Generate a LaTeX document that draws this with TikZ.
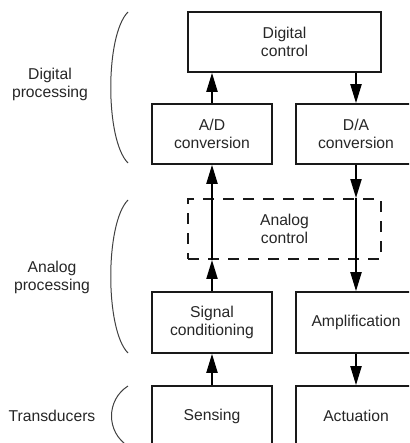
\documentclass[tikz,border=0pt]{standalone}
\usepackage{fontspec}
\setmainfont{Liberation Sans}
\usetikzlibrary{arrows.meta}
\begin{document}
\begin{tikzpicture}[x=1pt,y=-1pt,
  txt/.style={font=\fontsize{15.7}{18}\selectfont, text=black!85},
  blk/.style={txt, draw=black!90, line width=1.6pt, minimum width=120pt,
    minimum height=60pt, inner sep=0pt, align=center},
  wide/.style={blk, minimum width=193pt},
  dashbox/.style={wide, line width=1.9pt, dash pattern=on 11pt off 9pt},
  flow/.style={draw=black, line width=2pt, -{Triangle[length=19pt,width=11pt]}},
  shaft/.style={draw=black, line width=2pt},
  brk/.style={draw=black!75, line width=1pt},
  lbl/.style={txt, align=center}]
\useasboundingbox (0,0) rectangle (409,443);
\clip (0,0) rectangle (409,443);

% blocks
\node[wide] (dc) at (284.5,42) {Digital\\control};
\node[blk] (ad) at (212,134) {A/D\\conversion};
\node[blk] (da) at (356,134) {D/A\\conversion};
\node[dashbox] (ac) at (284.5,229) {Analog\\control};
\node[blk, minimum height=61pt] (sc) at (212,322.5) {Signal\\conditioning};
\node[blk, minimum height=61pt] (amp) at (356,322.5) {Amplification};
\node[blk] (sen) at (212,416) {Sensing};
\node[blk] (act) at (356,416) {Actuation};

% sensing path (upwards)
\coordinate (acLb) at (sc.north |- ac.south);
\coordinate (acLt) at (sc.north |- ac.north);
\draw[flow] (sen.north) -- (sc.south);
\draw[flow] (sc.north) -- (acLb);
\draw[shaft] (acLb) -- (acLt);
\draw[flow] (acLt) -- (ad.south);
\draw[flow] (ad.north) -- (ad.north |- dc.south);

% actuation path (downwards)
\coordinate (acRt) at (da.south |- ac.north);
\coordinate (acRb) at (da.south |- ac.south);
\draw[flow] (da.north |- dc.south) -- (da.north);
\draw[flow] (da.south) -- (acRt);
\draw[shaft] (acRt) -- (acRb);
\draw[flow] (acRb) -- (amp.north);
\draw[flow] (amp.south) -- (act.north);

% level brackets
\draw[brk] (128,12) .. controls (105,35) and (105,140) .. (128,163);
\draw[brk] (128,200) .. controls (105,223) and (105,330) .. (128,353);
\draw[brk] (128,386) .. controls (106,400) and (106,432) .. (128,446);

% level labels
\node[lbl] (lbd) at (50,84) {Digital\\processing};
\node[lbl] (lba) at (52,277) {Analog\\processing};
\node[lbl] (lbt) at (52,416) {Transducers};
\end{tikzpicture}
\end{document}
